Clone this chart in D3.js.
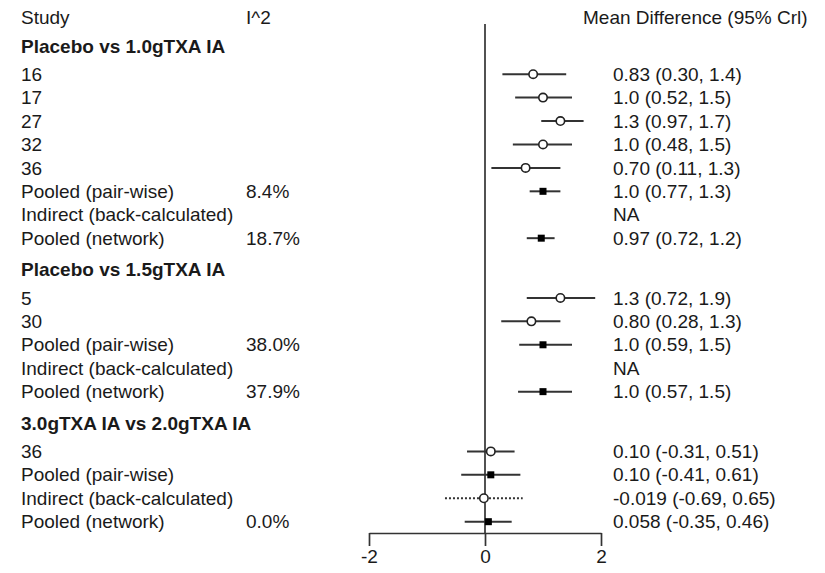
<!DOCTYPE html>
<html>
<head>
<meta charset="utf-8">
<script src="https://cdn.jsdelivr.net/npm/d3@7"></script>
<style>
  html, body { margin: 0; padding: 0; background: #fff; }
  svg text { font-family: "Liberation Sans", Arial, sans-serif; font-size: 19px; fill: #1a1a1a; }
</style>
</head>
<body>
<svg id="chart" width="825" height="573"></svg>
<script>
// ---- Data ----
const groupTitles = ["Placebo vs 1.0gTXA IA", "Placebo vs 1.5gTXA IA", "3.0gTXA IA vs 2.0gTXA IA"];
const rowGroup  = [0, 0, 0, 0, 0, 0, 0, 0, 1, 1, 1, 1, 1, 2, 2, 2, 2];
const rowLabels = ["16", "17", "27", "32", "36", "Pooled (pair-wise)", "Indirect (back-calculated)", "Pooled (network)",
                   "5", "30", "Pooled (pair-wise)", "Indirect (back-calculated)", "Pooled (network)",
                   "36", "Pooled (pair-wise)", "Indirect (back-calculated)", "Pooled (network)"];
const rowType   = ["study", "study", "study", "study", "study", "pooled", "indirect", "pooled",
                   "study", "study", "pooled", "indirect", "pooled",
                   "study", "pooled", "indirect", "pooled"];
const i2Labels  = ["", "", "", "", "", "8.4%", "", "18.7%",
                   "", "", "38.0%", "", "37.9%",
                   "", "", "", "0.0%"];
const meanVals  = [0.83, 1.0, 1.3, 1.0, 0.70, 1.0, null, 0.97,
                   1.3, 0.80, 1.0, null, 1.0,
                   0.10, 0.10, -0.019, 0.058];
const lowerVals = [0.30, 0.52, 0.97, 0.48, 0.11, 0.77, null, 0.72,
                   0.72, 0.28, 0.59, null, 0.57,
                   -0.31, -0.41, -0.69, -0.35];
const upperVals = [1.4, 1.5, 1.7, 1.5, 1.3, 1.3, null, 1.2,
                   1.9, 1.3, 1.5, null, 1.5,
                   0.51, 0.61, 0.65, 0.46];
const estLabels = ["0.83 (0.30, 1.4)", "1.0 (0.52, 1.5)", "1.3 (0.97, 1.7)", "1.0 (0.48, 1.5)", "0.70 (0.11, 1.3)",
                   "1.0 (0.77, 1.3)", "NA", "0.97 (0.72, 1.2)",
                   "1.3 (0.72, 1.9)", "0.80 (0.28, 1.3)", "1.0 (0.59, 1.5)", "NA", "1.0 (0.57, 1.5)",
                   "0.10 (-0.31, 0.51)", "0.10 (-0.41, 0.61)", "-0.019 (-0.69, 0.65)", "0.058 (-0.35, 0.46)"];
const colHeaders = ["Study", "I^2", "Mean Difference (95% Crl)"];
const xTicks = [-2, 0, 2];
const xTickLabels = ["-2", "0", "2"];

// ---- Layout ----
const svg = d3.select("#chart");
const x = d3.scaleLinear().domain([-2, 2]).range([369, 601]);
const y = d3.scaleLinear().domain([0, 1]).range([17, 17 + 23.43]);
const colX = { study: 21, i2: 246, est: 613, estHead: 583 };

const items = [];
let u = 0;
items.push({ kind: "colhead", u: 0 });
let prevGroup = -1;
rowLabels.forEach((lab, i) => {
  if (rowGroup[i] !== prevGroup) {
    u += (prevGroup === -1) ? 1.24 : 1.35;
    items.push({ kind: "group", u, text: groupTitles[rowGroup[i]] });
    u += 1.2;
    prevGroup = rowGroup[i];
  } else {
    u += 1;
  }
  items.push({ kind: "row", u, i });
});

// column headers
svg.append("text").attr("x", colX.study).attr("y", y(0)).attr("dy", "0.35em").text(colHeaders[0]);
svg.append("text").attr("x", colX.i2).attr("y", y(0)).attr("dy", "0.35em").text(colHeaders[1]);
svg.append("text").attr("x", colX.estHead).attr("y", y(0)).attr("dy", "0.35em").text(colHeaders[2]);

// group headers
svg.selectAll("text.group").data(items.filter(d => d.kind === "group")).join("text")
  .attr("class", "group")
  .attr("x", colX.study).attr("y", d => y(d.u)).attr("dy", "0.35em")
  .style("font-weight", "bold")
  .text(d => d.text);

const rows = items.filter(d => d.kind === "row");

svg.selectAll("text.lab").data(rows).join("text")
  .attr("class", "lab").attr("x", colX.study).attr("y", d => y(d.u)).attr("dy", "0.35em")
  .text(d => rowLabels[d.i]);
svg.selectAll("text.i2").data(rows.filter(d => i2Labels[d.i] !== "")).join("text")
  .attr("class", "i2").attr("x", colX.i2).attr("y", d => y(d.u)).attr("dy", "0.35em")
  .text(d => i2Labels[d.i]);
svg.selectAll("text.est").data(rows).join("text")
  .attr("class", "est").attr("x", colX.est).attr("y", d => y(d.u)).attr("dy", "0.35em")
  .text(d => estLabels[d.i]);

// reference line at 0
const axisY = 533;
svg.append("line")
  .attr("x1", x(0)).attr("x2", x(0)).attr("y1", 24).attr("y2", axisY)
  .attr("stroke", "#333").attr("stroke-width", 1.7);

// axis
const axis = d3.axisBottom(x).tickValues(xTicks).tickSize(13).tickSizeOuter(0)
  .tickFormat((d, i) => xTickLabels[i]);
const gAxis = svg.append("g").attr("transform", `translate(0,${axisY})`).call(axis);
gAxis.select(".domain").attr("stroke", "#333").attr("stroke-width", 1.7);
gAxis.selectAll(".tick line").attr("stroke", "#333").attr("stroke-width", 1.7);
gAxis.selectAll(".tick text")
  .attr("y", 17).attr("dy", "0.71em")
  .style("font-family", "'Liberation Sans', Arial, sans-serif").style("font-size", "19px").attr("fill", "#1a1a1a");

// marks
const markRows = rows.filter(d => meanVals[d.i] !== null);
svg.selectAll("line.ci").data(markRows).join("line")
  .attr("class", "ci")
  .attr("x1", d => x(lowerVals[d.i])).attr("x2", d => x(upperVals[d.i]))
  .attr("y1", d => y(d.u)).attr("y2", d => y(d.u))
  .attr("stroke", "#333").attr("stroke-width", 2)
  .attr("stroke-dasharray", d => rowType[d.i] === "indirect" ? "2,2" : null);

svg.selectAll("circle.pt").data(markRows.filter(d => rowType[d.i] !== "pooled")).join("circle")
  .attr("class", "pt")
  .attr("cx", d => x(meanVals[d.i])).attr("cy", d => y(d.u)).attr("r", 4.2)
  .attr("fill", "#fff").attr("stroke", "#222").attr("stroke-width", 1.6);

const sq = 7;
svg.selectAll("rect.pt").data(markRows.filter(d => rowType[d.i] === "pooled")).join("rect")
  .attr("class", "pt")
  .attr("x", d => x(meanVals[d.i]) - sq / 2).attr("y", d => y(d.u) - sq / 2)
  .attr("width", sq).attr("height", sq).attr("fill", "#000");
</script>
</body>
</html>
